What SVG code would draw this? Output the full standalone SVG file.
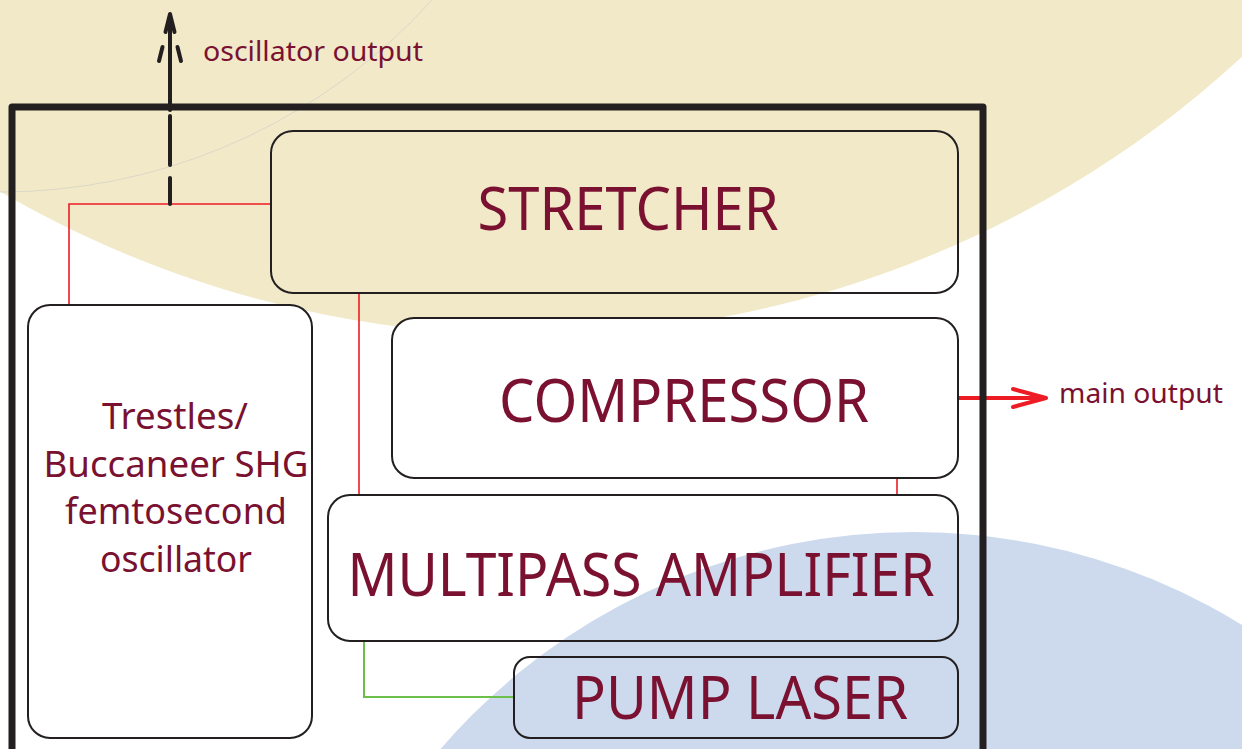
<svg xmlns="http://www.w3.org/2000/svg" width="1242" height="749" viewBox="0 0 1242 749">
<style>
.box{stroke:#231f20;stroke-width:2;}
.lbl{font-family:"Noto Sans","Open Sans","Liberation Sans",sans-serif;fill:#7a1131;}
.big{font-size:60px;text-anchor:middle;}
.osc{font-size:36px;text-anchor:middle;}
.small{font-size:28px;}
.red{stroke:#ed1c24;stroke-width:1.6;fill:none;}
.blk{stroke:#231f20;stroke-width:4;stroke-linecap:round;fill:none;}
</style>
<rect width="1242" height="749" fill="#ffffff"/>
<g id="background">
<circle cx="530" cy="-715" r="1050" fill="#f1e9c8"/>
<circle cx="0" cy="-390" r="582" fill="none" stroke="#d6d3c6" stroke-width="0.8"/>
<circle cx="914" cy="1157" r="625" fill="#cddaee"/>
</g>
<g id="connectors">
<polyline class="red" points="69,305 69,204 271,204"/>
<line class="red" x1="359" y1="293" x2="359" y2="494"/>
<line class="red" x1="897" y1="478" x2="897" y2="494"/>
<polyline points="364,641 364,697 513,697" fill="none" stroke="#6cbf4a" stroke-width="2"/>
<g id="osc-output">
<line class="blk" x1="170" y1="20" x2="170" y2="110"/>
<line class="blk" x1="170" y1="116" x2="170" y2="165"/>
<line class="blk" x1="170" y1="178" x2="170" y2="204"/>
<polyline class="blk" points="165.5,32 170,14 174.5,32" stroke-linejoin="round"/>
<line class="blk" x1="162.5" y1="47" x2="159" y2="61"/>
<line class="blk" x1="177.5" y1="47" x2="181" y2="61"/>
</g>
<g id="main-output">
<line x1="958" y1="398" x2="1045" y2="398" stroke="#ed1c24" stroke-width="4"/>
<polyline points="1013,389 1046,398 1013,407" fill="none" stroke="#ed1c24" stroke-width="4" stroke-linecap="round" stroke-linejoin="round"/>
</g>
</g>
<g id="enclosure">
<polyline points="12,749 12,107 983,107 983,749" fill="none" stroke="#231f20" stroke-width="7" stroke-linejoin="round"/>
</g>
<g id="stretcher">
<rect class="box" x="271" y="131" width="687" height="162" rx="22" fill="none"/>
<text class="lbl big" x="628" y="230" textLength="301" lengthAdjust="spacingAndGlyphs">STRETCHER</text>
</g>
<g id="compressor">
<rect class="box" x="392" y="318" width="566" height="160" rx="22" fill="#ffffff"/>
<text class="lbl big" x="684" y="422" textLength="370" lengthAdjust="spacingAndGlyphs">COMPRESSOR</text>
</g>
<g id="amplifier">
<rect class="box" x="328" y="495" width="630" height="146" rx="22" fill="none"/>
<text class="lbl big" x="641" y="596" textLength="587" lengthAdjust="spacingAndGlyphs">MULTIPASS AMPLIFIER</text>
</g>
<g id="pump">
<rect class="box" x="514" y="657" width="444" height="81" rx="16" fill="none"/>
<text class="lbl big" x="740" y="719" textLength="336" lengthAdjust="spacingAndGlyphs">PUMP LASER</text>
</g>
<g id="oscillator">
<rect class="box" x="28" y="305" width="284" height="433" rx="22" fill="#ffffff"/>
<text class="lbl osc" x="175" y="429" textLength="146" lengthAdjust="spacingAndGlyphs">Trestles/</text>
<text class="lbl osc" x="176" y="477" textLength="265" lengthAdjust="spacingAndGlyphs">Buccaneer SHG</text>
<text class="lbl osc" x="176" y="524" textLength="222" lengthAdjust="spacingAndGlyphs">femtosecond</text>
<text class="lbl osc" x="176" y="572" textLength="152" lengthAdjust="spacingAndGlyphs">oscillator</text>
</g>
<g id="labels">
<text class="lbl small" x="203" y="61" textLength="220" lengthAdjust="spacingAndGlyphs">oscillator output</text>
<text class="lbl small" x="1059" y="403" textLength="164" lengthAdjust="spacingAndGlyphs">main output</text>
</g>
</svg>
